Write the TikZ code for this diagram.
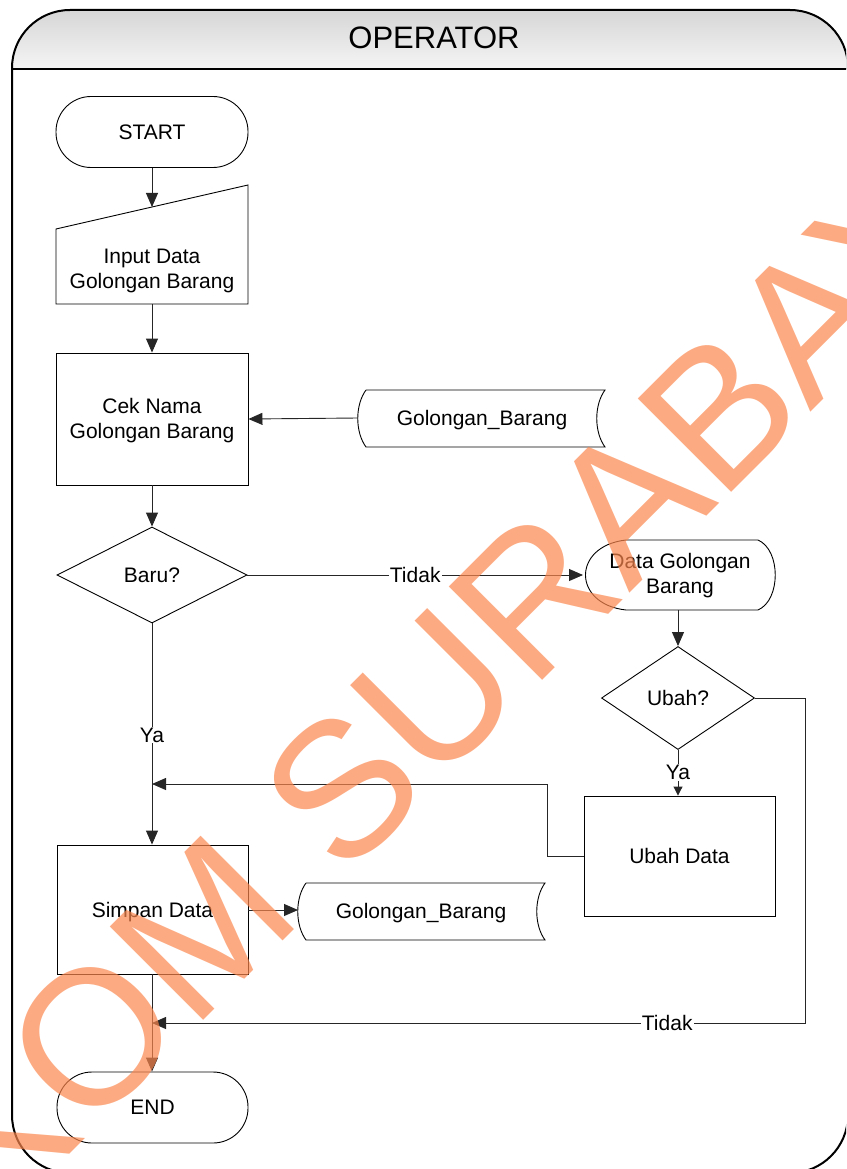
\documentclass[tikz,border=0pt]{standalone}
\usepackage{fontspec}
\setmainfont{Liberation Sans}
\usetikzlibrary{shapes.geometric,arrows.meta}
\definecolor{wm}{RGB}{250,134,77}
\tikzset{
  base/.style={font=\fontsize{21}{25}\selectfont, align=center, inner sep=0pt},
  procbox/.style={base, draw, line width=0.9pt, minimum width=192pt},
  term/.style={base, draw, line width=0.9pt, rounded corners=35pt, minimum width=192pt, minimum height=71pt},
  decision/.style={base, draw, line width=0.9pt, diamond},
  outline/.style={draw, line width=0.9pt},
  conn/.style={line width=0.9pt, draw=black!85},
  arr/.style={conn, -{Triangle[length=14pt,width=12pt]}},
  arrsmall/.style={conn, -{Triangle[length=9pt,width=9pt]}},
  lbl/.style={base, fill=white, inner sep=1pt},
}
\begin{document}
\begin{tikzpicture}[x=1pt,y=-1pt]
\useasboundingbox (0,0) rectangle (846,1169);
\begin{scope}
\clip (0,0) rectangle (846,1169);
% lane frame
\fill[top color=gray!32, bottom color=gray!8, rounded corners=58pt]
  (12,69) -- (12,10) -- (848,10) [sharp corners] -- (848,69) -- cycle;
\draw[line width=2pt, rounded corners=58pt]
  (12,600) -- (12,10) -- (848,10) -- (848,1173) -- (12,1173) -- cycle;
\draw[line width=2pt] (12,69) -- (848,69);
\node[font=\fontsize{31}{31}\selectfont, inner sep=0pt] (hdr) at (434,38) {OPERATOR};

% nodes
\node[term] (start) at (152,132) {START};

\node[base] (input) at (152,270.5) {Input Data\\Golongan Barang};
\draw[outline] (56,229) -- (248,185) -- (248,304) -- (56,304) -- cycle;
\coordinate (inputN) at (152,207);
\coordinate (inputS) at (152,304);

\node[procbox, minimum height=132pt] (cek) at (152,419) {};
\node[base] (cektext) at (152,421) {Cek Nama\\Golongan Barang};

\node[base] (gb1) at (482,420) {Golongan\_Barang};
\draw[outline] (366,390) -- (605,390) .. controls (594,405) and (594,432) .. (605,447)
  -- (366,447) .. controls (355,432) and (355,405) .. (366,390);
\coordinate (gb1W) at (358,418);

\node[decision, minimum width=190pt, minimum height=96pt] (baru) at (152,575) {Baru?};

\node[base] (disp) at (680,576) {Data Golongan\\Barang};
\draw[outline] (626,540) -- (758,540) .. controls (781,550) and (781,600) .. (758,610)
  -- (626,610) .. controls (572,604) and (572,546) .. (626,540);
\coordinate (dispW) at (583,575);
\coordinate (dispS) at (678,610);

\node[decision, minimum width=153pt, minimum height=103pt] (ubah) at (678,698) {Ubah?};

\node[procbox, minimum width=191pt, minimum height=120pt] (ubahdata) at (679.5,856) {Ubah Data};

\node[procbox, minimum width=191pt, minimum height=129pt] (simpan) at (152.5,909.5) {};
\node[base] (simpantext) at (152.5,912) {Simpan Data};

\node[base] (gb2) at (421,913) {Golongan\_Barang};
\draw[outline] (306,883) -- (545,883) .. controls (534,898) and (534,925) .. (545,940)
  -- (306,940) .. controls (295,925) and (295,898) .. (306,883);
\coordinate (gb2W) at (298,910);

\node[term, minimum width=191pt] (end) at (152.5,1107.5) {END};

\coordinate (joinA) at (152,784);
\coordinate (joinB) at (152,1023);

% connectors
\draw[arr] (start.south) -- (inputN);
\draw[arr] (inputS) -- (cek.north -| inputS);
\draw[arr] (gb1W) -- (cek.east);
\draw[arr] (cek.south -| baru.north) -- (baru.north);
\draw[arr] (baru.east) -- node[lbl]{Tidak} (dispW);
\draw[arr] (dispS) -- (ubah.north);
\draw[arrsmall] (ubah.south) -- node[lbl]{Ya} (ubah.south |- ubahdata.north);
\draw[arr] (ubahdata.west) -- (547,856) -- (547,784) -- (joinA);
\draw[arr] (ubah.east) -- (805,698) -- (805,1023) -- node[lbl, pos=0.211]{Tidak} (joinB);
\draw[arr] (baru.south) -- node[lbl, pos=0.505]{Ya} (baru.south |- simpan.north);
\draw[arr] (simpan.east |- gb2W) -- (gb2W);
\draw[arr] (simpan.south -| joinB) -- (end.north -| joinB);

% watermark
\node[rotate=45, text=wm, text opacity=0.7, font=\fontsize{192}{192}\selectfont, inner sep=0pt] (wmark) at (377,753) {STIKOM SURABAYA};
\end{scope}
\end{tikzpicture}
\end{document}
